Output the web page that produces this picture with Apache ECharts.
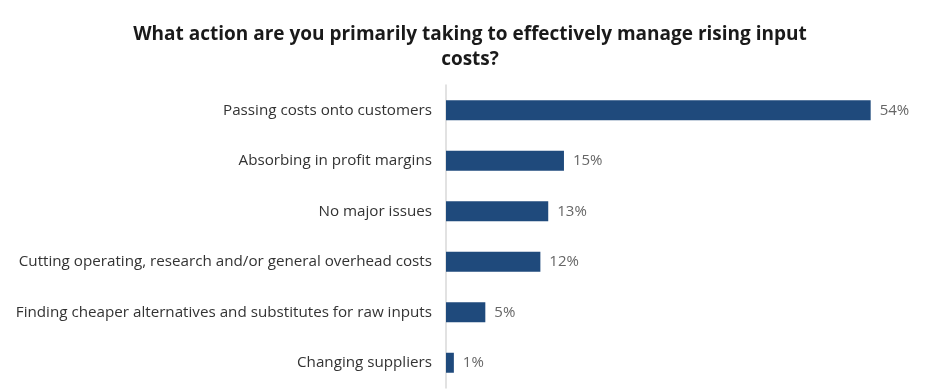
<!DOCTYPE html>
<html>
<head>
<meta charset="utf-8">
<script src="https://cdn.jsdelivr.net/npm/echarts@6/dist/echarts.min.js"></script>
<style>html,body{margin:0;padding:0;background:#fff}#c{width:932px;height:390px}</style>
</head>
<body>
<div id="c"></div>
<script>
const titleText = 'What action are you primarily taking to effectively manage rising input\ncosts?';
const categories = [
  'Passing costs onto customers',
  'Absorbing in profit margins',
  'No major issues',
  'Cutting operating, research and/or general overhead costs',
  'Finding cheaper alternatives and substitutes for raw inputs',
  'Changing suppliers'
];
const values = [54, 15, 13, 12, 5, 1];

const chart = echarts.init(document.getElementById('c'));
chart.setOption({
  animation: false,
  title: {
    text: titleText,
    left: 465,
    textAlign: 'center',
    top: 17,
    textStyle: { fontFamily: 'Open Sans', fontWeight: 'bold', fontSize: 19, color: '#1a1a1a', lineHeight: 25 }
  },
  grid: { left: 446, width: 440.4, top: 85, height: 303, containLabel: false },
  xAxis: {
    type: 'value', min: 0, max: 56,
    show: false
  },
  yAxis: {
    type: 'category', inverse: true, data: categories,
    axisLine: { show: true, lineStyle: { color: '#d9d9d9', width: 1.5 } },
    axisTick: { show: false },
    axisLabel: { fontFamily: 'Open Sans', fontSize: 15.2, color: '#333333', margin: 14 }
  },
  series: [{
    type: 'bar', data: values, barWidth: 20,
    itemStyle: { color: '#1f4a7c' },
    label: { show: true, position: 'right', distance: 9, formatter: '{c}%', fontFamily: 'Open Sans', fontSize: 15, color: '#666666' }
  }]
});
</script>
</body>
</html>
